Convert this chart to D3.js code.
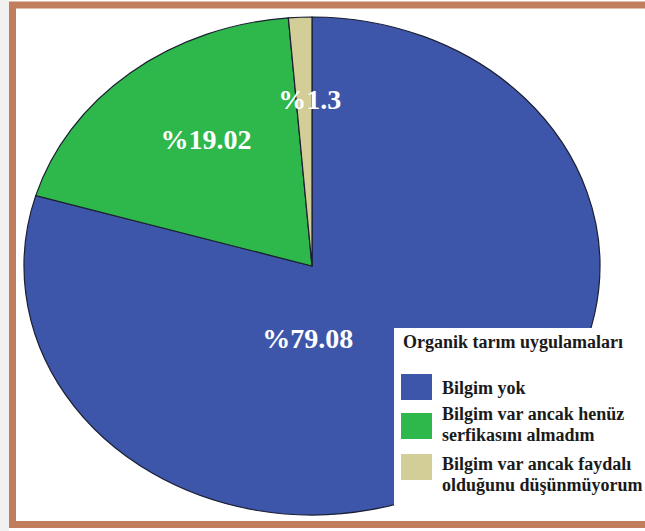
<!DOCTYPE html>
<html>
<head>
<meta charset="utf-8">
<script src="https://cdn.jsdelivr.net/npm/d3@7"></script>
<style>
  html, body { margin: 0; padding: 0; background: #fff; }
  svg { display: block; }
</style>
</head>
<body>
<div id="chart"></div>
<script>
// --- DATA ---
const categories = [
    "Bilgim yok",
    "Bilgim var ancak henüz serfikasını almadım",
    "Bilgim var ancak faydalı olduğunu düşünmüyorum"
];
const values = [79.08, 19.02, 1.3];
const valueLabels = ["%79.08", "%19.02", "%1.3"];
const legendLines = [
    ["Bilgim yok"],
    ["Bilgim var ancak henüz", "serfikasını almadım"],
    ["Bilgim var ancak faydalı", "olduğunu düşünmüyorum"]
];
const legendTitle = "Organik tarım uygulamaları";
const colors = ["#3D56A9", "#2EB84B", "#D3CE98"];

// label placement inside each slice: [angle in degrees clockwise from 12 o'clock, fraction of radius]
const labelPolar = [[183, 0.29], [324, 0.626], [359.3, 0.67]];

// --- LAYOUT ---
const width = 645, height = 531;
const cx = 312, cy = 266, rx = 288, ry = 249;
const serif = "'Liberation Serif', 'Times New Roman', 'DejaVu Serif', serif";

const svg = d3.select("#chart").append("svg")
    .attr("width", width).attr("height", height);

// faint grey strip at the left edge
svg.append("rect")
    .attr("x", 0).attr("y", 0).attr("width", 9).attr("height", height)
    .attr("fill", "#f1f1f1");

// frame
svg.append("rect")
    .attr("x", 12.5).attr("y", 5)
    .attr("width", 660).attr("height", 519.5)
    .attr("fill", "#fff")
    .attr("stroke", "#C07E5D")
    .attr("stroke-width", 7);

// --- PIE (elliptical) ---
const pie = d3.pie().sort(null).value(d => d);
const arcs = pie(values);
const arc = d3.arc().innerRadius(0).outerRadius(ry);

const pieG = svg.append("g")
    .attr("transform", `translate(${cx},${cy}) scale(${rx / ry},1)`);

pieG.selectAll("path")
    .data(arcs).enter().append("path")
    .attr("d", arc)
    .attr("fill", (d, i) => colors[i])
    .attr("stroke", "#1b1f33")
    .attr("stroke-width", 1.2)
    .attr("vector-effect", "non-scaling-stroke");

// slice labels
svg.selectAll(".slice-label")
    .data(arcs).enter().append("text")
    .attr("class", "slice-label")
    .attr("x", (d, i) => cx + Math.sin(labelPolar[i][0] * Math.PI / 180) * rx * labelPolar[i][1])
    .attr("y", (d, i) => cy - Math.cos(labelPolar[i][0] * Math.PI / 180) * ry * labelPolar[i][1])
    .attr("text-anchor", "middle")
    .attr("dominant-baseline", "central")
    .attr("fill", "#fff")
    .style("font-family", serif)
    .style("font-weight", "bold")
    .style("font-size", "28px")
    .text((d, i) => valueLabels[i]);

// --- LEGEND ---
const legend = svg.append("g").attr("transform", "translate(394,328)");
legend.append("rect")
    .attr("x", 0).attr("y", 0)
    .attr("width", 260).attr("height", 177)
    .attr("fill", "#fff");

legend.append("text")
    .attr("x", 9).attr("y", 20)
    .attr("fill", "#1a1a1a")
    .style("font-family", serif)
    .style("font-weight", "bold")
    .style("font-size", "18px")
    .text(legendTitle);

const swatchY = [46, 85, 126];
const textY = [20, 7, 16];
const items = legend.selectAll(".legend-item")
    .data(categories).enter().append("g")
    .attr("class", "legend-item")
    .attr("transform", (d, i) => `translate(7,${swatchY[i]})`);

items.append("rect")
    .attr("width", 31).attr("height", 26)
    .attr("fill", (d, i) => colors[i]);

items.append("text")
    .attr("x", 41)
    .attr("fill", "#1a1a1a")
    .style("font-family", serif)
    .style("font-weight", "bold")
    .style("font-size", "18px")
    .each(function(d, i) {
        const t = d3.select(this);
        legendLines[i].forEach((line, j) => {
            t.append("tspan")
                .attr("x", 41)
                .attr("y", textY[i] + j * 21)
                .text(line);
        });
    });
</script>
</body>
</html>
